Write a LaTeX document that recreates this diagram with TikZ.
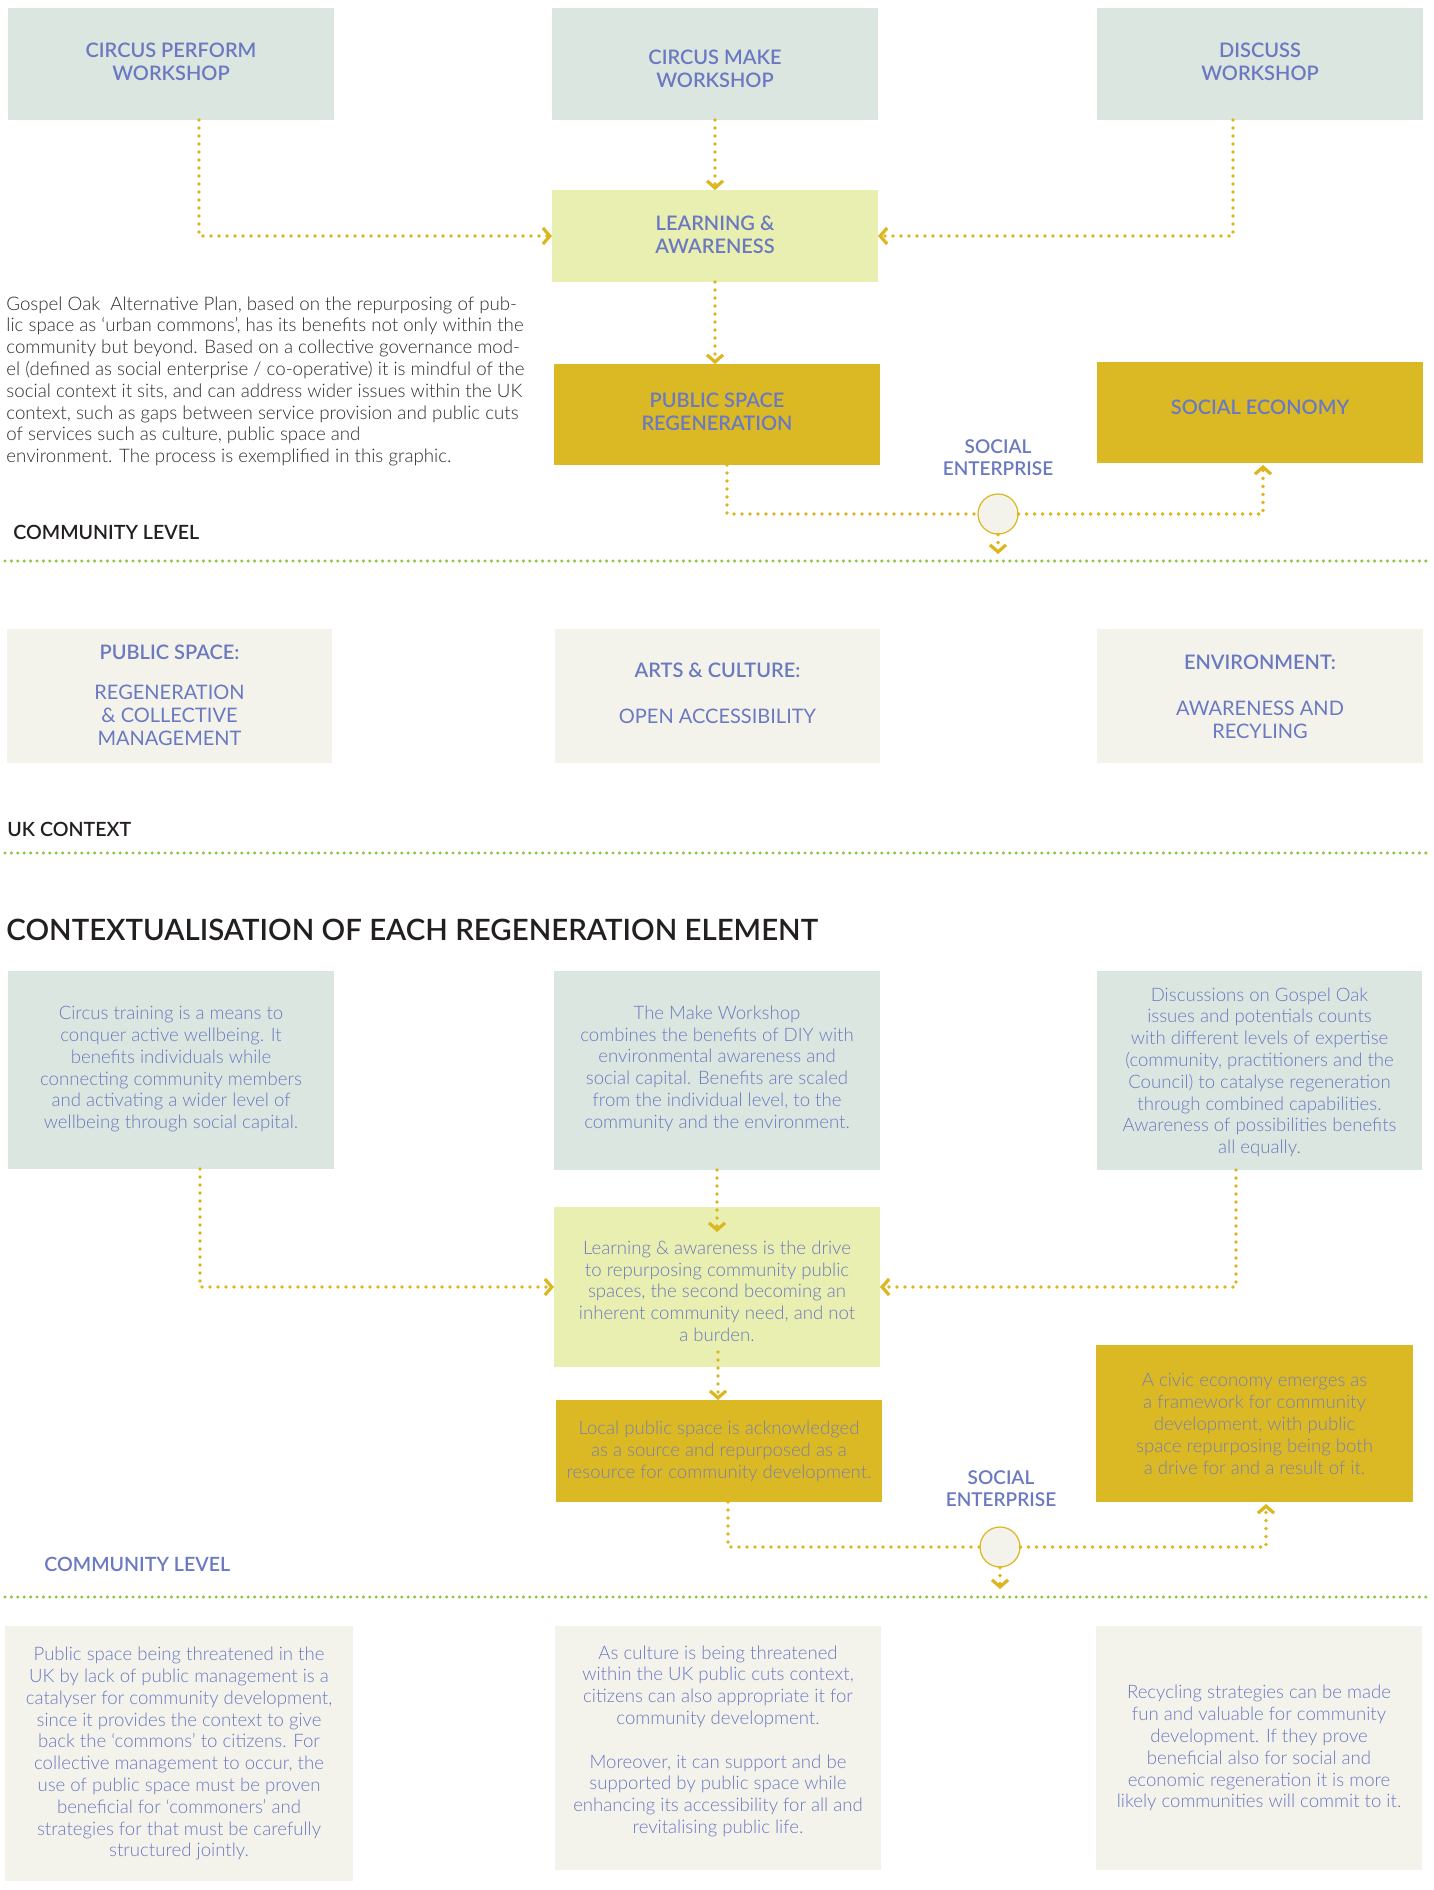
\documentclass[tikz,border=0pt]{standalone}
\usepackage{fontspec}
\setmainfont{Lato}
\IfFontExistsTF{Lato Light}{\newfontfamily\lightfamily{Lato Light}}{\newcommand\lightfamily{\normalfont}}
\IfFontExistsTF{Lato Semibold}{\newfontfamily\midfamily{Lato Semibold}}{\newcommand\midfamily{\bfseries}}
\usetikzlibrary{arrows.meta,fit,calc}

\definecolor{boxgrey}{HTML}{DCE6E0}
\definecolor{boxlime}{HTML}{E9EFB0}
\definecolor{boxgold}{HTML}{DBB924}
\definecolor{boxcream}{HTML}{F3F3EC}
\definecolor{inkblue}{HTML}{6B79C0}
\definecolor{inkgold}{HTML}{7C80AC}
\definecolor{inkdark}{HTML}{231F20}
\definecolor{inkgrey}{HTML}{2E2E2E}
\definecolor{linegreen}{HTML}{8DC63F}
\definecolor{linegold}{HTML}{DDB61E}

\newcommand\panelheadfont{\fontsize{10pt}{11.5pt}\selectfont\midfamily}
\newcommand\panelplainfont{\fontsize{10pt}{11.5pt}\selectfont}

\tikzset{
  panel/.style={inner sep=0pt, outer sep=0pt, align=center, text=inkblue},
  greypanel/.style={panel, fill=boxgrey},
  limepanel/.style={panel, fill=boxlime},
  goldpanel/.style={panel, fill=boxgold},
  creampanel/.style={panel, fill=boxcream},
  headtext/.style={font=\panelheadfont},
  plaintext/.style={font=\panelplainfont},
  bodytext/.style={font=\fontsize{9.3pt}{10.9pt}\selectfont\lightfamily},
  sectionlabel/.style={inner sep=0pt, anchor=west, text=inkdark, font=\fontsize{9.8pt}{11pt}\selectfont\midfamily},
  hub/.style={circle, draw=linegold, fill=boxcream, line width=0.6pt, minimum size=20pt, inner sep=0pt},
  golddots/.style={draw=linegold, line width=1.9pt, line cap=round, dash pattern=on 0pt off 4pt},
  flow/.style={golddots, -{Straight Barb[length=3.5pt,width=8pt,line width=1.6pt]}},
  divider/.style={draw=linegreen, line width=1.7pt, line cap=round, dash pattern=on 0pt off 3.2pt},
}

\begin{document}
\begin{tikzpicture}[x=0.5pt, y=-0.5pt]
\useasboundingbox (0,0) rectangle (1434,1890);
\fill[white] (0,0) rectangle (1434,1890);

% ---------- workshops ----------
\node[greypanel, headtext, fit={(8,8) (334,120)}] (perf) {\\[-6.5pt]CIRCUS PERFORM\\WORKSHOP};
\node[greypanel, headtext, fit={(552,8) (878,120)}] (make) {\\[1pt]CIRCUS MAKE\\WORKSHOP};
\node[greypanel, headtext, fit={(1097,8) (1423,120)}] (disc) {\\[-6.5pt]DISCUSS\\WORKSHOP};
\node[limepanel, headtext, fit={(552,190) (878,282)}] (learn) {\\[-5.5pt]LEARNING \&\\AWARENESS};
\node[goldpanel, headtext, fit={(554,364) (880,465)}] (psr) {\\[-6.5pt]PUBLIC SPACE\\REGENERATION};
\node[goldpanel, headtext, fit={(1097,362) (1423,463)}] (soceco) {\\[-9pt]SOCIAL ECONOMY};
\node[hub] (hubA) at (998,514) {};
\node[panel, font=\fontsize{9.5pt}{11pt}\selectfont\midfamily] (entA) at (998,458) {SOCIAL\\ENTERPRISE};
\coordinate (hubAend) at (998,554);

\draw[flow] (199,0 |- perf.south) |- (learn.west);
\draw[flow] (make.south) -- (learn.north);
\draw[flow] (1233,0 |- disc.south) |- (learn.east);
\draw[flow] (learn.south) -- (learn.south |- psr.north);
\draw[golddots] (727,0 |- psr.south) |- (hubA.west);
\draw[flow] (hubA.east) -| ([yshift=-1pt]1263,0 |- soceco.south);
\draw[flow] (hubA.south) -- (hubAend);

% ---------- introduction ----------
\node[inner sep=0pt, anchor=north west, align=left, text=inkgrey,
      font=\fontsize{9.35pt}{10.9pt}\selectfont\lightfamily] (intro) at (6,296)
{Gospel Oak~ Alternative Plan, based on the repurposing of pub-\\
lic space as ‘urban commons’, has its benefits not only within the\\
community but beyond. Based on a collective governance mod-\\
el (defined as social enterprise / co-operative) it is mindful of the\\
social context it sits, and can address wider issues within the UK\\
context, such as gaps between service provision and public cuts\\
of services such as culture, public space and\\
environment. The process is exemplified in this graphic.};

\node[sectionlabel] (commA) at (13,532) {COMMUNITY LEVEL};
\coordinate (divAl) at (5,561);
\coordinate (divAr) at (1430,561);
\draw[divider] (divAl) -- (divAr);

% ---------- UK context ----------
\node[creampanel, plaintext, fit={(7,629) (332,763)}] (ukps)
  {\\[-4.5pt]{\panelheadfont PUBLIC SPACE:}\\[8.5pt]REGENERATION\\\& COLLECTIVE\\MANAGEMENT};
\node[creampanel, plaintext, fit={(555,629) (880,763)}] (ukart)
  {\\[-6.5pt]{\panelheadfont ARTS \& CULTURE:}\\[11.5pt]OPEN ACCESSIBILITY};
\node[creampanel, plaintext, fit={(1097,629) (1423,763)}] (ukenv)
  {\\[-3pt]{\panelheadfont ENVIRONMENT:}\\[11.5pt]AWARENESS AND\\RECYLING};

\node[sectionlabel] (ukctx) at (7,829) {UK CONTEXT};
\coordinate (divBl) at (5,853);
\coordinate (divBr) at (1430,853);
\draw[divider] (divBl) -- (divBr);

\node[sectionlabel, font=\fontsize{14.7pt}{16pt}\selectfont\midfamily] (title) at (6,930)
  {CONTEXTUALISATION OF EACH REGENERATION ELEMENT};

% ---------- regeneration elements ----------
\node[greypanel, bodytext, fit={(8,971) (334,1169)}] (circ)
  {\\[-4.9pt]Circus training is a means to\\conquer active wellbeing. It\\benefits individuals while\\connecting community members\\and activating a wider level of\\wellbeing through social capital.};
\node[greypanel, bodytext, fit={(554,971) (880,1170)}] (makew)
  {\\[-5.9pt]The Make Workshop\\combines the benefits of DIY with\\environmental awareness and\\social capital. Benefits are scaled\\from the individual level, to the\\community and the environment.};
\node[greypanel, bodytext, fit={(1097,971) (1422,1170)}] (discw)
  {\\[-2.4pt]Discussions on Gospel Oak\\issues and potentials counts\\with different levels of expertise\\(community, practitioners and the\\Council) to catalyse regeneration\\through combined capabilities.\\Awareness of possibilities benefits\\all equally.};
\node[limepanel, bodytext, fit={(554,1207) (880,1367)}] (learnw)
  {\\Learning \& awareness is the drive\\to repurposing community public\\spaces, the second becoming an\\inherent community need, and not\\a burden.};
\node[goldpanel, bodytext, text=inkgold, fit={(556,1400) (882,1502)}] (local)
  {\\[-3.9pt]Local public space is acknowledged\\as a source and repurposed as a\\resource for community development.};
\node[goldpanel, bodytext, text=inkgold, fit={(1096,1345) (1413,1502)}] (civic)
  {\\[-3.9pt]A civic economy emerges as\\a framework for community\\development, with public\\space repurposing being both\\a drive for and a result of it.};
\node[hub] (hubB) at (1000,1547) {};
\node[panel, font=\fontsize{9.5pt}{11pt}\selectfont\midfamily] (entB) at (1001,1489) {SOCIAL\\ENTERPRISE};
\coordinate (learnin) at (717,1232);
\coordinate (learnout) at (718,1352);
\coordinate (hubBend) at (1000,1589);

\draw[flow] (200,0 |- circ.south) |- (learnw.west);
\draw[flow] (makew.south) -- (learnin);
\draw[flow] (1236,0 |- discw.south) |- (learnw.east);
\draw[flow] (learnout) -- (learnout |- local.north);
\draw[golddots] (728,0 |- local.south) |- (hubB.west);
\draw[flow] (hubB.east) -| ([yshift=-1pt]1266,0 |- civic.south);
\draw[flow] (hubB.south) -- (hubBend);

\node[sectionlabel, text=inkblue] (commB) at (44,1564) {COMMUNITY LEVEL};
\coordinate (divCl) at (5,1597);
\coordinate (divCr) at (1430,1597);
\draw[divider] (divCl) -- (divCr);

% ---------- UK context of each element ----------
\node[creampanel, bodytext, fit={(5,1626) (353,1881)}] (ctxps)
  {\\[-3.9pt]Public space being threatened in the\\UK by lack of public management is a\\catalyser for community development,\\since it provides the context to give\\back the ‘commons’ to citizens. For\\collective management to occur, the\\use of public space must be proven\\beneficial for ‘commoners’ and\\strategies for that must be carefully\\structured jointly.};
\node[creampanel, bodytext, fit={(555,1626) (881,1870)}] (ctxart)
  {As culture is being threatened\\within the UK public cuts context,\\citizens can also appropriate it for\\community development.\\[10.9pt]Moreover, it can support and be\\supported by public space while\\enhancing its accessibility for all and\\revitalising public life.};
\node[creampanel, bodytext, fit={(1096,1626) (1422,1870)}] (ctxenv)
  {\\[-3.9pt]Recycling strategies can be made\\fun and valuable for community\\development. If they prove\\beneficial also for social and\\economic regeneration it is more\\likely communities will commit to it.};
\end{tikzpicture}
\end{document}
